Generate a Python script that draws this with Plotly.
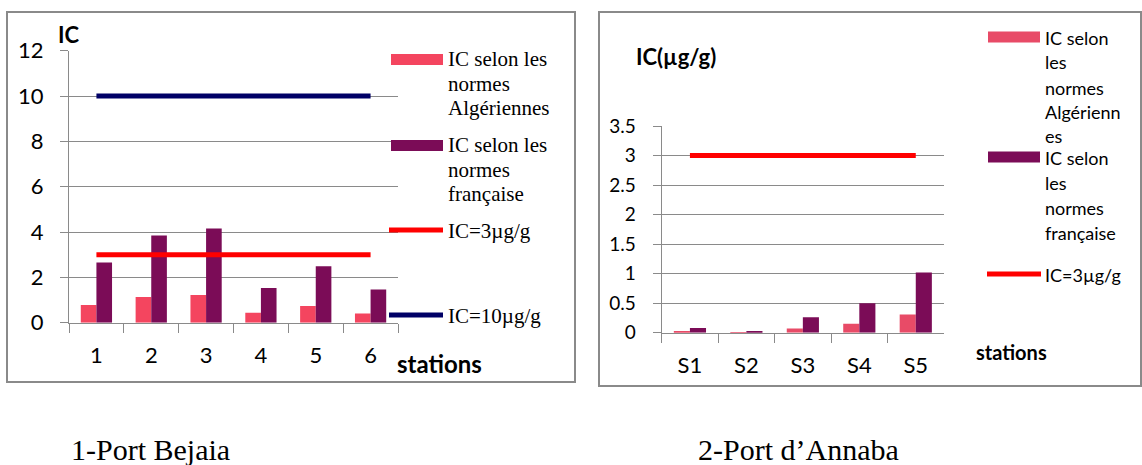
import plotly.graph_objects as go

# --- data -------------------------------------------------------------
stations_bejaia = ["1", "2", "3", "4", "5", "6"]
ic_alg_bejaia = [0.78, 1.13, 1.22, 0.44, 0.74, 0.41]
ic_fr_bejaia = [2.66, 3.85, 4.16, 1.53, 2.49, 1.47]

stations_annaba = ["S1", "S2", "S3", "S4", "S5"]
ic_alg_annaba = [0.02, 0.005, 0.07, 0.15, 0.31]
ic_fr_annaba = [0.08, 0.03, 0.26, 0.50, 1.02]

seuil_3 = 3
seuil_10 = 10

# --- page geometry ------------------------------------------------------
W, H = 1142, 465


def px(x):
    return x / W


def py(y):
    return 1 - y / H


PINK_L = "#F4455F"
PINK_R = "#E84B67"
PURPLE = "#7B0C57"
RED = "#FF0000"
NAVY = "#000066"
GRID = "#8a8a8a"
SANS = "Lato"
SERIF = "Liberation Serif"

fig = go.Figure()

# Port de Bejaia
fig.add_trace(go.Bar(x=stations_bejaia, y=ic_alg_bejaia, marker_color=PINK_L,
                     marker_line_width=0, xaxis="x", yaxis="y"))
fig.add_trace(go.Bar(x=stations_bejaia, y=ic_fr_bejaia, marker_color=PURPLE,
                     marker_line_width=0, xaxis="x", yaxis="y"))
fig.add_trace(go.Scatter(x=stations_bejaia, y=[seuil_3] * len(stations_bejaia),
                         mode="lines", line=dict(color=RED, width=5),
                         xaxis="x", yaxis="y"))
fig.add_trace(go.Scatter(x=stations_bejaia, y=[seuil_10] * len(stations_bejaia),
                         mode="lines", line=dict(color=NAVY, width=5),
                         xaxis="x", yaxis="y"))

# Port d'Annaba
fig.add_trace(go.Bar(x=stations_annaba, y=ic_alg_annaba, marker_color=PINK_R,
                     marker_line_width=0, xaxis="x2", yaxis="y2"))
fig.add_trace(go.Bar(x=stations_annaba, y=ic_fr_annaba, marker_color=PURPLE,
                     marker_line_width=0, xaxis="x2", yaxis="y2"))
fig.add_trace(go.Scatter(x=stations_annaba, y=[seuil_3] * len(stations_annaba),
                         mode="lines", line=dict(color=RED, width=5),
                         xaxis="x2", yaxis="y2"))

xcommon = dict(type="category", tickson="boundaries", ticks="outside",
               ticklen=9, tickwidth=1.3, tickcolor=GRID, showline=True,
               linecolor=GRID, linewidth=1.3, showgrid=False,
               color="#000000", fixedrange=True, automargin=False)
ycommon = dict(ticks="outside", ticklen=8, tickwidth=1.3, tickcolor=GRID,
               showline=True, linecolor=GRID, linewidth=1.3,
               showgrid=True, gridcolor=GRID, gridwidth=1.3,
               zeroline=False, color="#000000", fixedrange=True,
               automargin=False)

fig.update_layout(
    width=W, height=H, autosize=False,
    margin=dict(l=0, r=0, t=0, b=0, pad=0, autoexpand=False),
    paper_bgcolor="white", plot_bgcolor="white",
    showlegend=False, barmode="group", bargap=0.43, bargroupgap=0,
    xaxis=dict(domain=[px(69), px(398)], anchor="y",
               tickfont=dict(family=SANS, size=22), ticklabelstandoff=13,
               **xcommon),
    yaxis=dict(domain=[py(322.7), py(50.7)], anchor="x", range=[0, 12],
               dtick=2, tickfont=dict(family=SANS, size=22),
               ticklabelstandoff=12, **ycommon),
    xaxis2=dict(domain=[px(661.7), px(944)], anchor="y2",
                tickfont=dict(family=SANS, size=22), ticklabelstandoff=13,
                **xcommon),
    yaxis2=dict(domain=[py(332.7), py(126)], anchor="x2", range=[0, 3.5],
                dtick=0.5, tickfont=dict(family=SANS, size=19),
                ticklabelstandoff=13, **ycommon),
)

shapes = []
annotations = []


def frame(x0, y0, x1, y1):
    shapes.append(dict(type="rect", xref="paper", yref="paper",
                       x0=px(x0), x1=px(x1), y0=py(y1), y1=py(y0),
                       line=dict(color=GRID, width=2), fillcolor="rgba(0,0,0,0)",
                       layer="below"))


def swatch(x0, x1, yc, color, h=11):
    shapes.append(dict(type="rect", xref="paper", yref="paper",
                       x0=px(x0), x1=px(x1), y0=py(yc + h / 2), y1=py(yc - h / 2),
                       line=dict(width=0), fillcolor=color))


def line_key(x0, x1, yc, color):
    shapes.append(dict(type="line", xref="paper", yref="paper",
                       x0=px(x0), x1=px(x1), y0=py(yc), y1=py(yc),
                       line=dict(color=color, width=5)))


def text(x, y, s, family=SANS, size=18, bold=False, anchor="left"):
    annotations.append(dict(xref="paper", yref="paper", x=px(x), y=py(y),
                            text=f"<b>{s}</b>" if bold else s,
                            showarrow=False, xanchor=anchor, yanchor="middle",
                            font=dict(family=family, size=size, color="#000000")))


# chart frames
frame(7, 12, 575, 382)
frame(599, 12, 1141, 386)

# axis titles
text(56, 34, "IC", bold=True, size=22)
text(395, 363, "stations", bold=True, size=24)
text(634, 57, "IC(µg/g)", bold=True, size=22)
text(974, 352, "stations", bold=True, size=20)

# legend — Bejaia
swatch(391, 443, 59.5, PINK_L)
for y, s in [(59, "IC selon les"), (83.5, "normes"), (108, "Algériennes")]:
    text(446, y, s, family=SERIF, size=21)
swatch(391, 443, 145.5, PURPLE)
for y, s in [(145, "IC selon les"), (169.5, "normes"), (194, "française")]:
    text(446, y, s, family=SERIF, size=21)
line_key(389, 443, 230, RED)
text(446, 231, "IC=3µg/g", family=SERIF, size=21)
line_key(389, 443, 315, NAVY)
text(446, 316, "IC=10µg/g", family=SERIF, size=21)

# legend — Annaba
swatch(988, 1040, 37, PINK_R)
for y, s in [(37.5, "IC selon"), (62.5, "les"), (87.5, "normes"),
             (112, "Algérienn"), (136, "es")]:
    text(1043, y, s, size=18)
swatch(988, 1040, 157, PURPLE)
for y, s in [(158, "IC selon"), (183, "les"), (208, "normes"),
             (233, "française")]:
    text(1043, y, s, size=18)
line_key(987, 1041, 274, RED)
text(1043, 275, "IC=3µg/g", size=18)

# captions
text(69, 449, "1-Port Bejaia", family=SERIF, size=30)
text(696, 449, "2-Port d’Annaba", family=SERIF, size=30)

fig.update_layout(shapes=shapes, annotations=annotations)

fig.write_html("out.html")
